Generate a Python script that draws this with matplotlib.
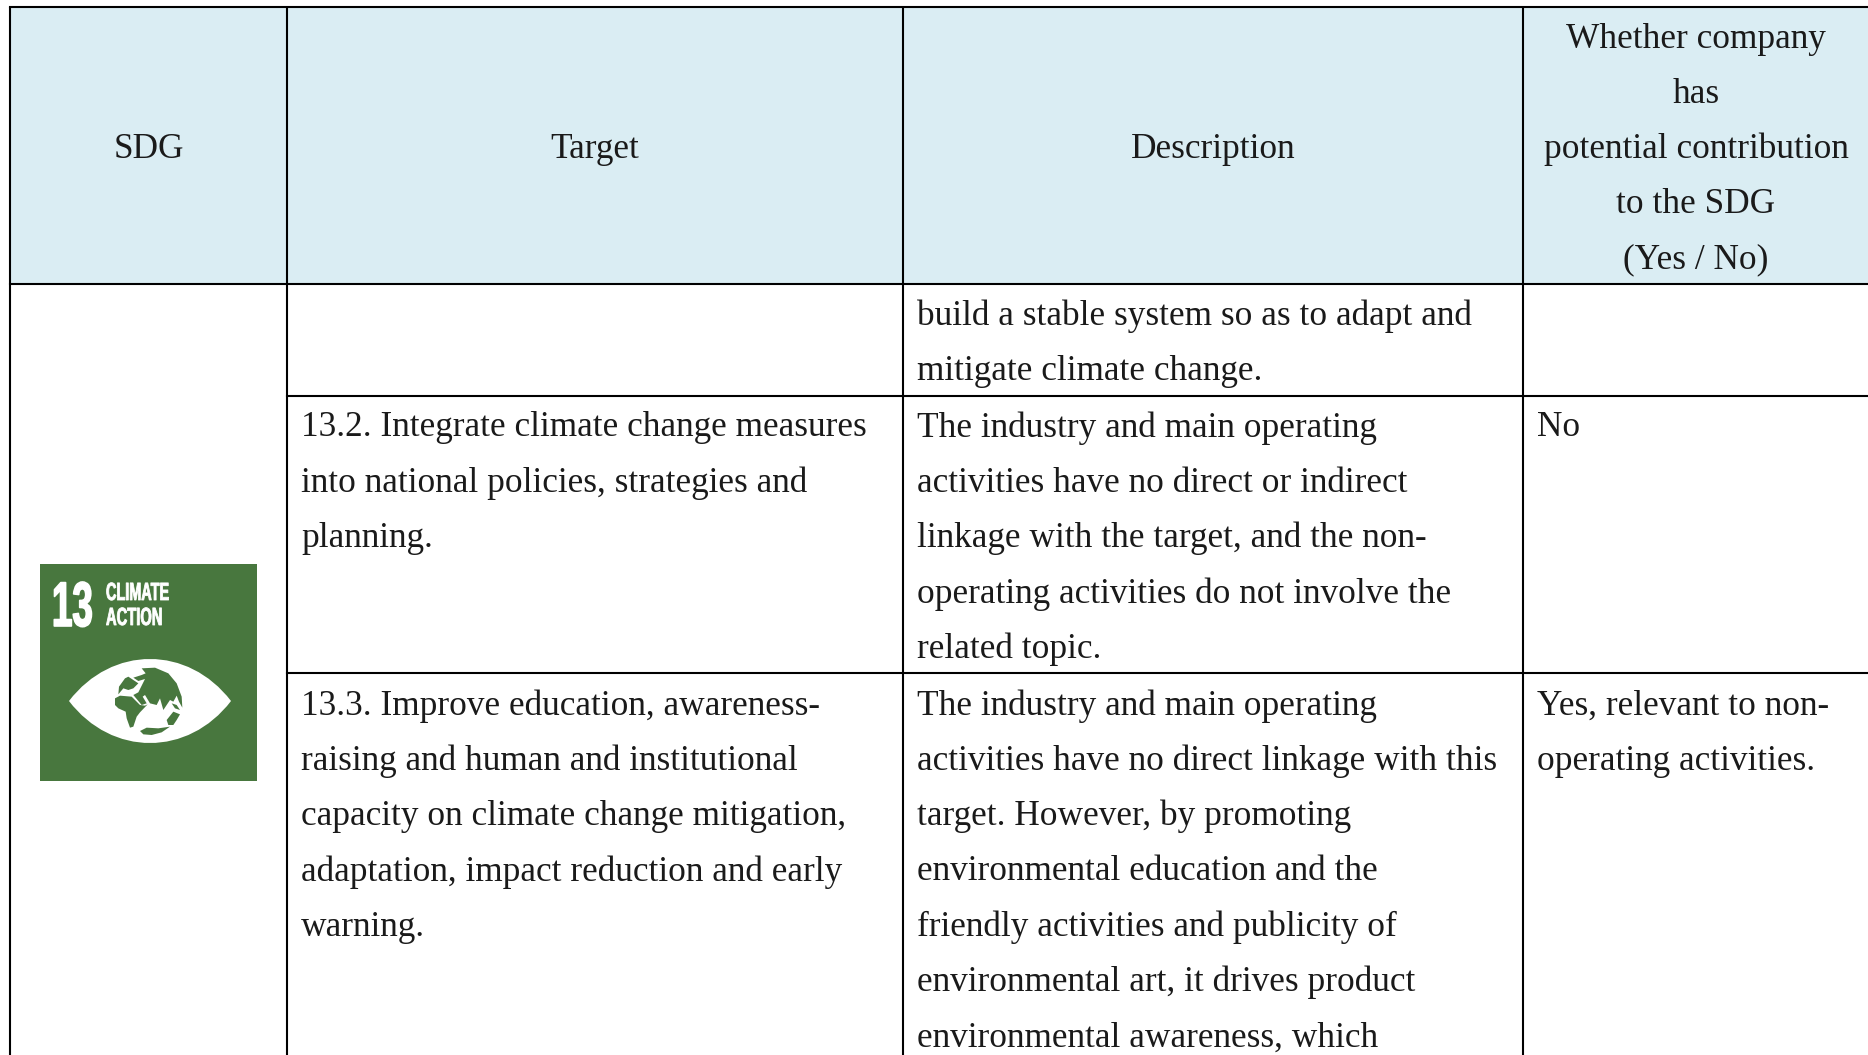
"""
Recreates the SDG 13 table: header row, three body rows and the climate action icon.
"""
import matplotlib
matplotlib.use("Agg")
import matplotlib.pyplot as plt
from matplotlib.patches import PathPatch, Polygon, Rectangle
from matplotlib.path import Path
from matplotlib.patheffects import AbstractPathEffect
from matplotlib.transforms import Affine2D

plt.rcParams['font.family'] = ['Liberation Serif', 'DejaVu Serif']

headers = ["SDG", "Target", "Description"]
header_last = ["Whether company", "has", "potential contribution", "to the SDG", "(Yes / No)"]

row1_description = ["build a stable system so as to adapt and",
                    "mitigate climate change."]
row2_target = ["13.2. Integrate climate change measures",
               "into national policies, strategies and",
               "planning."]
row2_description = ["The industry and main operating",
                    "activities have no direct or indirect",
                    "linkage with the target, and the non-",
                    "operating activities do not involve the",
                    "related topic."]
row2_answer = ["No"]
row3_target = ["13.3. Improve education, awareness-",
               "raising and human and institutional",
               "capacity on climate change mitigation,",
               "adaptation, impact reduction and early",
               "warning."]
row3_description = ["The industry and main operating",
                    "activities have no direct linkage with this",
                    "target. However, by promoting",
                    "environmental education and the",
                    "friendly activities and publicity of",
                    "environmental art, it drives product",
                    "environmental awareness, which"]
row3_answer = ["Yes, relevant to non-",
               "operating activities."]

# globe outlines, traced from the icon
eurasia = [(110, 40), (150, 38), (190, 55), (215, 85), (230, 125), (232, 158), (222, 140), (215, 122),
           (205, 140), (195, 135), (185, 150), (175, 165), (165, 130), (155, 150), (135, 145), (120, 120),
           (113, 125), (125, 145), (110, 150), (85, 120), (100, 112), (120, 72), (100, 78), (85, 68),
           (110, 60), (122, 55)]
europe = [(42, 95), (60, 70), (70, 65), (85, 75), (100, 85), (85, 100), (70, 105), (55, 100), (40, 118)]
africa = [(30, 130), (45, 122), (80, 125), (105, 150), (120, 152), (128, 148), (105, 172), (95, 185),
          (85, 215), (75, 218), (65, 190), (62, 170), (40, 160), (30, 150)]
australia = [(185, 195), (205, 170), (225, 178), (215, 195), (205, 210), (190, 210)]
antarctica = [(105, 228), (125, 218), (160, 220), (195, 215), (170, 232), (140, 240), (115, 238)]
islands = [(200, 145), (215, 150), (225, 165), (210, 160)]

W, H = 1868, 1055
HEADER_BG = "#daedf3"
ICON_GREEN = "#48773e"
TEXT = "#1a1a1a"
FS = 25.4
LINE = 55.3


class TallBold(AbstractPathEffect):
    """ Stretches text upward and thickens it, there is no condensed font for the icon. """
    def __init__(self, sy, stroke):
        super().__init__()
        self.sy = sy
        self.stroke = stroke

    def draw_path(self, renderer, gc, tpath, affine, rgbFace=None):
        gc0 = renderer.new_gc()
        gc0.copy_properties(gc)
        gc0.set_linewidth(self.stroke)
        gc0.set_foreground("white")
        renderer.draw_path(gc0, tpath, Affine2D().scale(1, self.sy) + affine, rgbFace)
        gc0.restore()


fig = plt.figure(figsize=(W / 100, H / 100), dpi=100)
ax = fig.add_axes([0, 0, 1, 1])
ax.set_xlim(0, W)
ax.set_ylim(H, 0)
ax.axis("off")

col_x = [10, 287, 903, 1523, W]
row_y = [7, 284, 396, 673, H]


def cell_text(lines, x, y0, ha="left"):
    for i, line in enumerate(lines):
        ax.text(x, y0 + i * LINE, line, fontsize=FS, color=TEXT, ha=ha, va="center_baseline")


def icon_text(x, y, text, size, sy, stroke=0.6):
    ax.text(x, y, text, color="white", fontsize=size, fontweight="bold", family="Liberation Sans",
            ha="left", va="baseline", path_effects=[TallBold(sy, stroke)])


def land(points):
    # traced points are in 3x crop coordinates of the area starting at (105, 655)
    ax.add_patch(Polygon([(105 + px / 3, 655 + py / 3) for px, py in points], fc=ICON_GREEN, ec="none"))


# header background
ax.add_patch(Rectangle((col_x[0], row_y[0]), W - col_x[0], row_y[1] - row_y[0], fc=HEADER_BG, ec="none"))

# grid lines
for x in col_x[:4]:
    ax.plot([x, x], [row_y[0], H], color="black", lw=1.5, solid_capstyle="butt")
ax.plot([col_x[0], W], [row_y[0], row_y[0]], color="black", lw=1.5)
ax.plot([col_x[0], W], [row_y[1], row_y[1]], color="black", lw=1.5)
for y in row_y[2:4]:
    ax.plot([col_x[1], W], [y, y], color="black", lw=1.5)

# header text
for i, name in enumerate(headers):
    cell_text([name], (col_x[i] + col_x[i + 1]) / 2, 145, ha="center")
cell_text(header_last, 1696, 35, ha="center")

# body text
cell_text(row1_description, 917, 312)
cell_text(row2_target, 301, 424)
cell_text(row2_description, 917, 424)
cell_text(row2_answer, 1537, 424)
cell_text(row3_target, 301, 702)
cell_text(row3_description, 917, 702)
cell_text(row3_answer, 1537, 702)

# icon
ax.add_patch(Rectangle((40, 564), 217, 217, fc=ICON_GREEN, ec="none"))
icon_text(52, 626, "13", 26.4, 1.72, stroke=1.2)
icon_text(106, 600, "CLIMATE", 10.4, 1.72)
icon_text(106, 625, "ACTION", 10.6, 1.69)

# eye shape
cx, cy = 150, 701
eye = Path([(cx - 81, cy), (cx - 38, cy - 56), (cx + 38, cy - 56), (cx + 81, cy),
            (cx + 38, cy + 56), (cx - 38, cy + 56), (cx - 81, cy)],
           [Path.MOVETO, Path.CURVE4, Path.CURVE4, Path.CURVE4, Path.CURVE4, Path.CURVE4, Path.CURVE4])
ax.add_patch(PathPatch(eye, fc="white", ec="none"))

# globe
for shape in [eurasia, europe, africa, australia, antarctica, islands]:
    land(shape)

fig.savefig("out.png", dpi=100)
